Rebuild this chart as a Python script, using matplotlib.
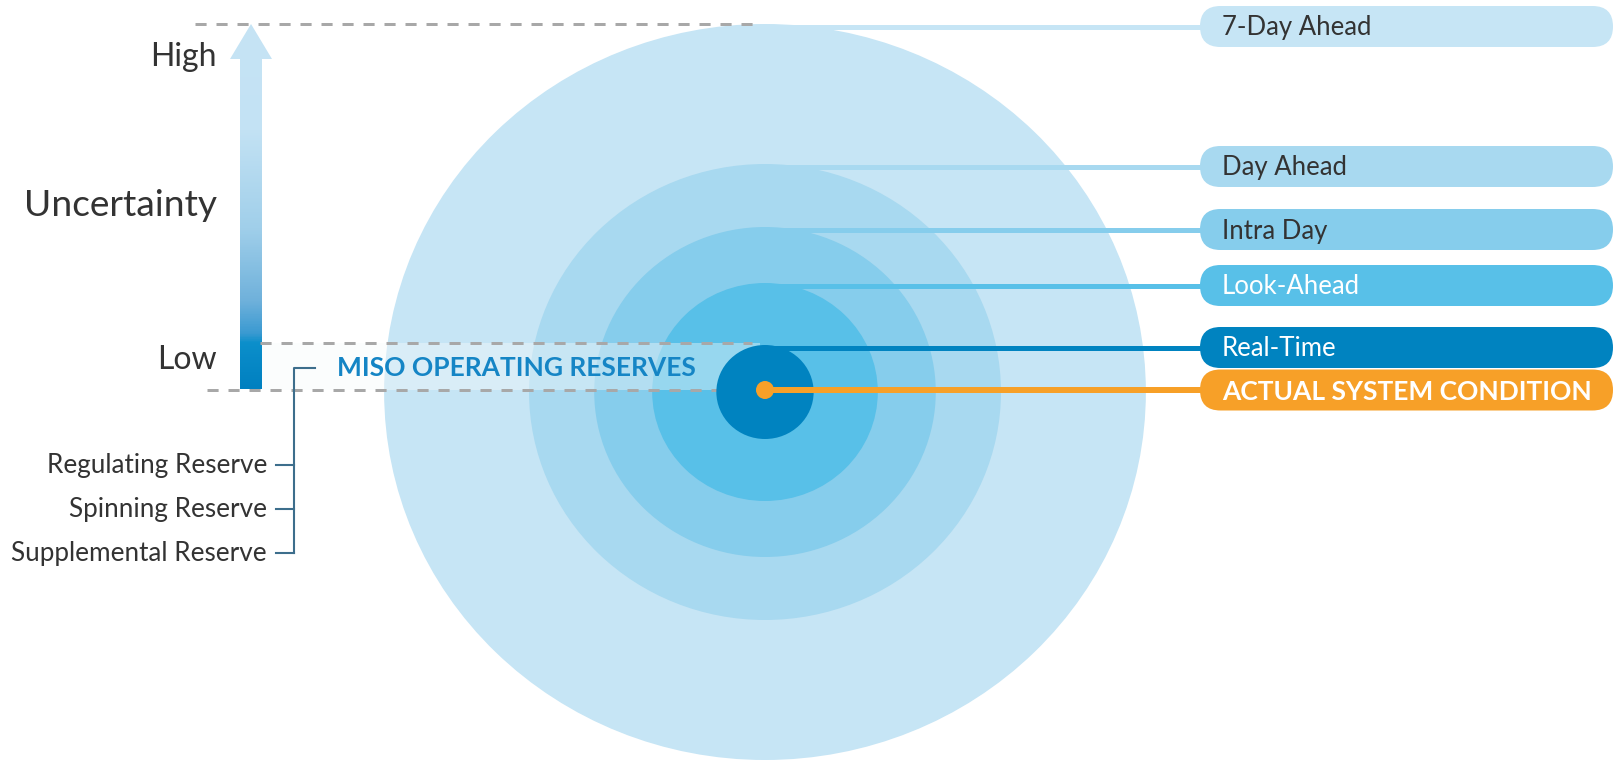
import matplotlib.pyplot as plt
import numpy as np
from matplotlib.patches import Ellipse, FancyBboxPatch, Polygon, Rectangle, Circle
from matplotlib.colors import LinearSegmentedColormap

plt.rcParams['font.family'] = ['Lato', 'DejaVu Sans']

# forecast horizons, biggest uncertainty first
horizons = ['7-Day Ahead', 'Day Ahead', 'Intra Day', 'Look-Ahead', 'Real-Time']
uncertainty = [368, 228, 165, 109, 47]          # circle radius (px)
colors = ['#c6e5f5', '#a8d9f0', '#86cdec', '#58c0e8', '#0083c0']
text_colors = ['#333333', '#333333', '#333333', 'white', 'white']
actual_label = 'ACTUAL SYSTEM CONDITION'
reserves = ['Regulating Reserve', 'Spinning Reserve', 'Supplemental Reserve']

W, H = 1617, 761
cx, cy = 765, 392
stretch = 1.035

fig = plt.figure(figsize=(W / 100, H / 100), dpi=100)
ax = fig.add_axes([0, 0, 1, 1])
ax.set_xlim(0, W)
ax.set_ylim(H, 0)
ax.axis('off')

pill_x0, pill_x1, pill_h = 1200, 1613, 41
lw_line = 5 * 0.72

for i, (name, r, c, tc) in enumerate(zip(horizons, uncertainty, colors, text_colors)):
    z = 1 + i if i < 4 else 8
    ax.add_patch(Ellipse((cx, cy), 2 * r * stretch, 2 * r, color=c, lw=0, zorder=z))
    ly = cy - r + 2.5
    ax.plot([cx, pill_x0 + 10], [ly, ly], color=c, lw=lw_line,
            solid_capstyle='butt', zorder=z + 0.5)
    ax.add_patch(FancyBboxPatch((pill_x0, ly - pill_h / 2), pill_x1 - pill_x0, pill_h,
                                boxstyle='round,pad=0,rounding_size=20.5',
                                fc=c, ec='none', zorder=20))
    ax.text(1222, ly + 1.5, name, fontsize=18.5, color=tc, va='center', ha='left', zorder=21)

# actual system condition
ay = 390
ax.plot([cx, pill_x0 + 10], [ay, ay], color='#f7a028', lw=6 * 0.72,
        solid_capstyle='butt', zorder=9)
ax.add_patch(Circle((cx, ay), 9, color='#f7a028', lw=0, zorder=10))
ax.add_patch(FancyBboxPatch((pill_x0, ay - pill_h / 2), pill_x1 - pill_x0, pill_h,
                            boxstyle='round,pad=0,rounding_size=20.5',
                            fc='#f7a028', ec='none', zorder=20))
ax.text(1222, ay + 1.5, actual_label, fontsize=19, fontweight='bold', color='white',
        va='center', ha='left', zorder=21)

# reserve band
ax.add_patch(Rectangle((262, 343), 498, 47, fc=(0.97, 0.98, 0.985), alpha=0.4,
                       lw=0, zorder=6))
dash = dict(color='#a8a8a8', lw=3 * 0.72, dashes=(3.7, 3.3), zorder=6.5)
ax.plot([195, 758], [24, 24], **dash)
ax.plot([260, 752], [343, 343], **dash)
ax.plot([207, 752], [390, 390], **dash)

# uncertainty arrow with gradient
arrow = Polygon([(240, 389), (240, 59), (230, 59), (251, 24), (272, 59),
                 (262, 59), (262, 389)], closed=True, fc='none', ec='none')
ax.add_patch(arrow)
cmap = LinearSegmentedColormap.from_list('unc', [
    (0.0, '#c6e4f5'), (0.29, '#c3e2f4'), (0.56, '#a0cfea'), (0.76, '#6fb1db'),
    (0.85, '#3a9ad1'), (0.875, '#0c8fcb'), (1.0, '#0080c0')])
grad = np.linspace(0, 1, 400).reshape(-1, 1)
im = ax.imshow(grad, cmap=cmap, extent=[228, 274, 389, 24], aspect='auto',
               zorder=3, interpolation='bilinear')
im.set_clip_path(arrow)
ax.set_xlim(0, W)
ax.set_ylim(H, 0)

ax.text(217, 57, 'High', fontsize=23, color='#333333', ha='right', va='center')
ax.text(217, 205, 'Uncertainty', fontsize=26.7, color='#333333', ha='right', va='center')
ax.text(217, 360, 'Low', fontsize=23, color='#333333', ha='right', va='center')

ax.text(337, 368, 'MISO OPERATING RESERVES', fontsize=19, fontweight='bold',
        color='#1585c5', ha='left', va='center', zorder=12)

# bracket
bc = '#3d6e8c'
ax.plot([315, 294, 294], [368, 368, 553], color=bc, lw=1.5, zorder=12)
for lab, y in zip(reserves, [465, 509, 553]):
    ax.plot([276, 294], [y, y], color=bc, lw=1.5, zorder=12)
    ax.text(267, y, lab, fontsize=18.8, color='#333333', ha='right', va='center')

fig.savefig('out.png', dpi=100)
